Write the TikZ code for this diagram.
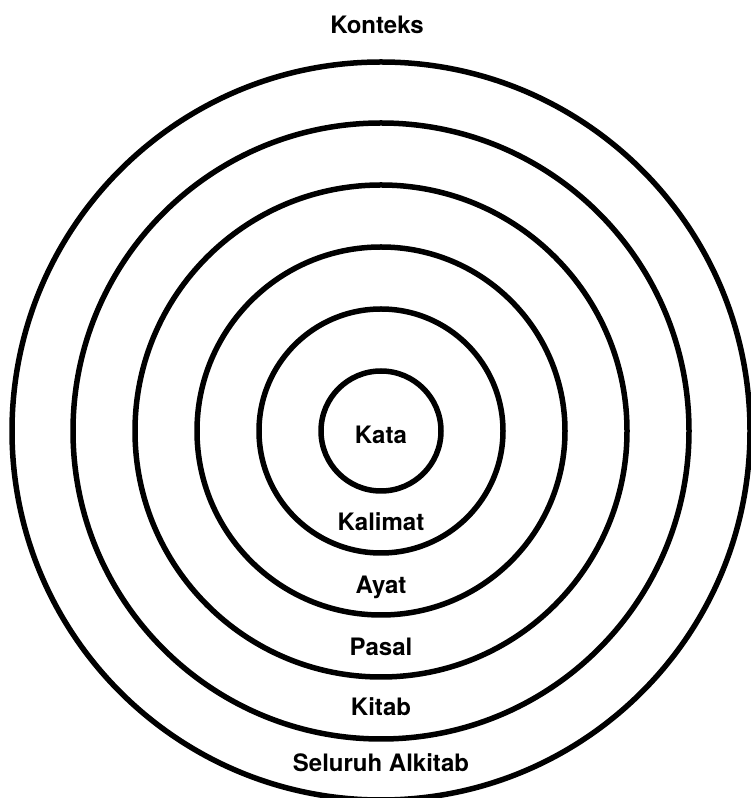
\documentclass[tikz,border=0pt]{standalone}
\usepackage{fontspec}
\setmainfont{TeX Gyre Heros}
\usepackage{tikz}
\usetikzlibrary{positioning}

\begin{document}
\begin{tikzpicture}[
  x=1pt, y=1pt,
  ring/.style={draw=black, line width=5.5pt},
  lbl/.style={font=\fontsize{24}{28}\selectfont\bfseries, inner sep=0pt},
]
\useasboundingbox (0,0) rectangle (751,798);

%% ---- Centre of the rings ----
\coordinate (ctr) at (381,367);

%% ---- Rings (inner to outer) ----
\foreach \r in {60,122,184,246,308,369}{
  \draw[ring] (ctr) circle[radius=\r];
}

%% ---- Labels ----
\node[lbl] (konteks) at (377,773) {Konteks};
\node[lbl] (kata)    at (381,363) {Kata};
\node[lbl] (kalimat) at (381,276) {Kalimat};
\node[lbl] (ayat)    at (381,211) {Ayat};
\node[lbl] (pasal)   at (381,151) {Pasal};
\node[lbl] (kitab)   at (381,91)  {Kitab};
\node[lbl] (seluruh) at (381,35)  {Seluruh Alkitab};

\end{tikzpicture}
\end{document}
